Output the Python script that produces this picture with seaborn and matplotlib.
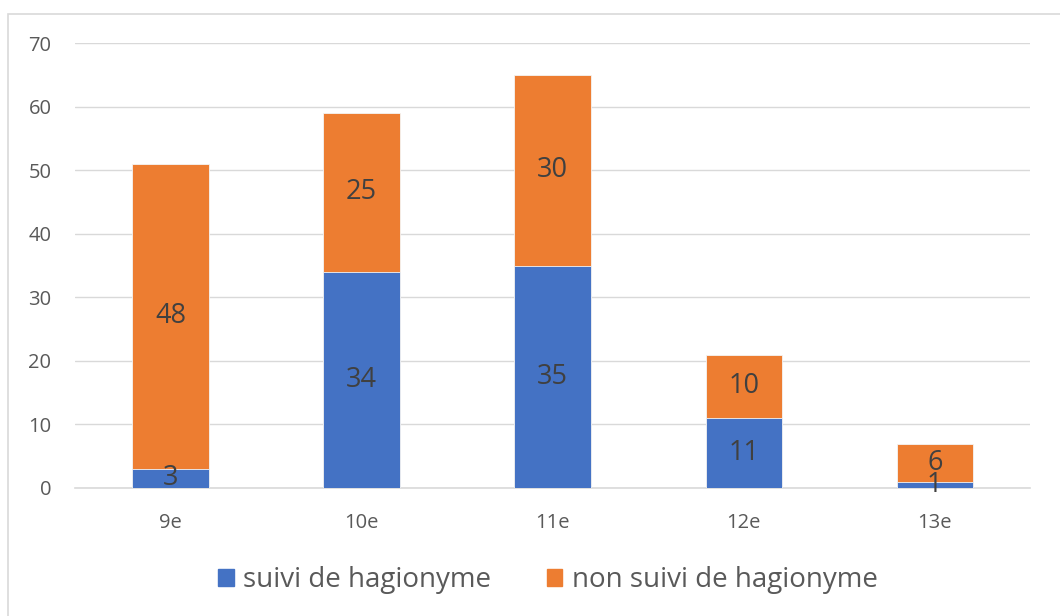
import numpy as np
import pandas as pd
import seaborn as sns
import matplotlib.pyplot as plt
from matplotlib.patches import Rectangle, Patch

siecles = ["9e", "10e", "11e", "12e", "13e"]
suivi = [3, 34, 35, 11, 1]
non_suivi = [48, 25, 30, 10, 6]

BLUE = "#4472C4"
ORANGE = "#ED7D31"

df = pd.DataFrame({"siecle": siecles, "suivi": suivi, "non_suivi": non_suivi})
df["total"] = df["suivi"] + df["non_suivi"]

sns.set_theme(style="white")
plt.rcParams["font.family"] = ["Open Sans", "DejaVu Sans"]

fig = plt.figure(figsize=(10.6, 6.16), dpi=100)
ax = fig.add_axes([0.0708, 0.2078, 0.9012, 0.7222])

# orange stack first (full height), blue drawn over the bottom part
sns.barplot(data=df, x="siecle", y="total", color=ORANGE, saturation=1,
            width=0.4, ax=ax, zorder=2, edgecolor="#F4F4F4", linewidth=0.6)
sns.barplot(data=df, x="siecle", y="suivi", color=BLUE, saturation=1,
            width=0.4, ax=ax, zorder=3, edgecolor="#F4F4F4", linewidth=0.6)

for i, row in df.iterrows():
    ax.text(i, row["suivi"] / 2, str(row["suivi"]), ha="center", va="center",
            fontsize=19.5, color="#404040", zorder=5)
    ax.text(i, row["suivi"] + row["non_suivi"] / 2, str(row["non_suivi"]),
            ha="center", va="center", fontsize=19.5, color="#404040", zorder=5)

ax.set_ylim(0, 70)
ax.set_yticks(range(0, 71, 10))
ax.set_xlim(-0.5, 4.5)
ax.yaxis.grid(True, color="#D9D9D9", linewidth=1)
ax.set_axisbelow(True)
for s in ["top", "right", "left"]:
    ax.spines[s].set_visible(False)
ax.spines["bottom"].set_color("#D9D9D9")
ax.spines["bottom"].set_linewidth(1.2)
ax.tick_params(axis="both", length=0, labelsize=14.5, labelcolor="#595959")
ax.tick_params(axis="x", pad=18)
ax.tick_params(axis="y", pad=17)
ax.set_xlabel("")
ax.set_ylabel("")

handles = [Patch(color=BLUE, label="suivi de hagionyme"),
           Patch(color=ORANGE, label="non suivi de hagionyme")]
fig.legend(handles=handles, loc="center", bbox_to_anchor=(0.517, 0.058), ncol=2,
           frameon=False, fontsize=20, labelcolor="#595959", handlelength=0.55,
           handleheight=0.55, handletextpad=0.35, columnspacing=2.0)

fig.add_artist(Rectangle((8 / 1060, -0.01), 1.02, 1 - 14 / 616 + 0.01,
                         transform=fig.transFigure, fill=False,
                         edgecolor="#D9D9D9", linewidth=1.2))

fig.savefig("out.png", dpi=100)
